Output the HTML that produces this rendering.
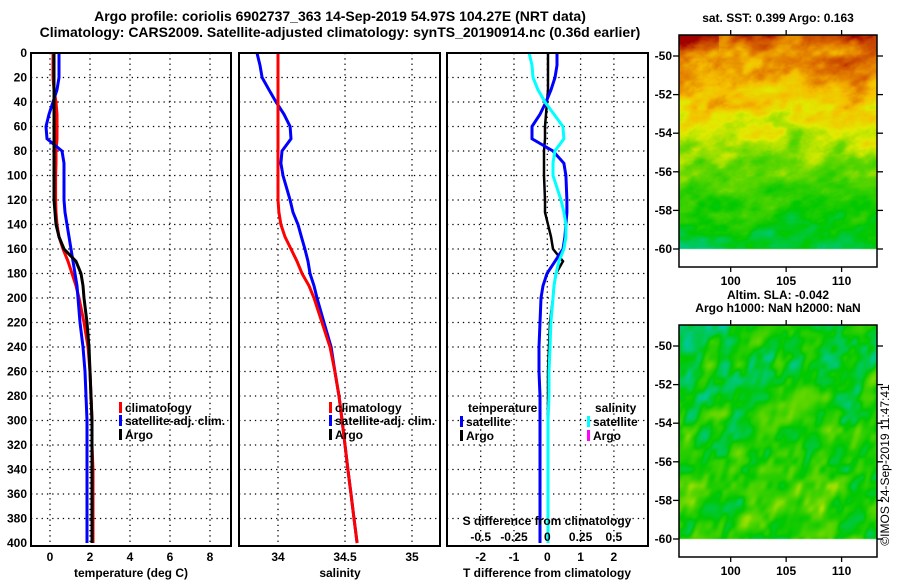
<!DOCTYPE html>
<html><head><meta charset="utf-8">
<style>
body{margin:0;background:#fff;}
#wrap{position:relative;width:900px;height:580px;overflow:hidden;background:#fff;font-family:"Liberation Sans",Arial,sans-serif;}
svg text{font-family:"Liberation Sans",Arial,sans-serif;font-weight:bold;}
canvas{position:absolute;}
</style></head>
<body>
<div id="wrap">
<canvas id="sst" width="198" height="232" style="left:679px;top:35px"></canvas>
<canvas id="sla" width="198" height="232" style="left:679px;top:325px"></canvas>
<svg id="fig" width="900" height="580" style="position:absolute;left:0;top:0"></svg>
</div>
<script>
// ---- data ----
const depths=[0,10,20,30,40,50,60,70,80,90,100,120,130,140,150,160,170,180,190,200,220,240,260,280,300,320,340,360,380,400];
const argoTemp=[0.2,0.2,0.2,0.2,0.2,0.2,0.2,0.2,0.2,0.2,0.2,0.2,0.25,0.3,0.45,0.7,1.3,1.55,1.65,1.7,1.85,1.95,2.0,2.05,2.1,2.1,2.1,2.1,2.1,2.1];
const climTemp=[0.15,0.15,0.15,0.2,0.3,0.35,0.35,0.35,0.3,0.3,0.28,0.28,0.3,0.35,0.45,0.65,0.9,1.1,1.3,1.45,1.7,1.9,2.0,2.05,2.1,2.1,2.15,2.15,2.15,2.15];
const satTemp=[0.45,0.45,0.45,0.35,0.15,-0.05,-0.2,-0.15,0.6,0.7,0.7,0.7,0.75,0.85,0.95,1.05,1.15,1.25,1.35,1.4,1.5,1.65,1.75,1.8,1.85,1.85,1.85,1.85,1.85,1.85];
const climSal=[34,34,34,34,34,34,34,34,34,34,34,34,34.007,34.022,34.052,34.097,34.142,34.179,34.231,34.269,34.328,34.388,34.425,34.455,34.478,34.5,34.522,34.545,34.567,34.59];
const satSal=[33.843,33.866,33.881,33.933,33.985,34.045,34.09,34.097,34.03,34.022,34.037,34.09,34.112,34.149,34.175,34.201,34.224,34.239,34.269,34.291,34.343,34.396,34.425,34.455,34.478,34.5,34.522,34.545,34.567,34.59];
const satTDiff=[0.29,0.29,0.23,0.11,-0.04,-0.22,-0.46,-0.46,0.17,0.5,0.56,0.59,0.59,0.56,0.53,0.47,0.23,-0.01,-0.13,-0.19,-0.22,-0.25,-0.25,-0.22,-0.22,-0.22,-0.22,-0.22,-0.22,-0.22];
const satSDiff=[-0.137,-0.115,-0.107,-0.07,-0.017,0.05,0.117,0.125,0.057,0.043,0.043,0.103,0.125,0.14,0.14,0.125,0.087,0.065,0.05,0.043,0.027,0.02,0.013,0.013,0.005,0.005,0.005,0.005,0.005,0.005];
const argoTDiff=[0.02,0.02,0.02,0.02,-0.01,-0.04,-0.07,-0.07,-0.1,-0.1,-0.1,-0.07,-0.07,0.02,0.11,0.17,0.47,0.26,0.2,0.17,0.08,0.05,0.02,0.02,0.02,0.02,0.02,0.02,0.02,0.02];
const depthTicks=[0,20,40,60,80,100,120,140,160,180,200,220,240,260,280,300,320,340,360,380,400];
const tempTicks=[0,2,4,6,8];
const salTicks=[34,34.5,35];
const salTickLabels=["34","34.5","35"];
const tdTicks=[-2,-1,0,1,2];
const sdTicks=[-0.5,-0.25,0,0.25,0.5];
const sdTickLabels=["-0.5","-0.25","0","0.25","0.5"];
const latTicks=[-50,-52,-54,-56,-58,-60];
const lonTicks=[100,105,110];

const NS='http://www.w3.org/2000/svg';
const svg=document.getElementById('fig');
function el(tag,attrs,parent){const e=document.createElementNS(NS,tag);for(const k in attrs)e.setAttribute(k,attrs[k]);(parent||svg).appendChild(e);return e;}
function txt(x,y,s,anchor,size,parent){const t=el('text',{x:x,y:y,'text-anchor':anchor||'middle','font-size':size||12},parent);t.textContent=s;return t;}

const Y0=53,Y1=543;
function yD(d){return Y0+(Y1-Y0)*d/400;}
const xT=t=>50+20*t;
const xS=s=>278+134*(s-34);
const xDT=t=>547.3+33.3*t;
const xDS=s=>547.3+133.2*s;

const panels=[{x0:31,x1:231,name:'temperature-panel'},{x0:239,x1:440,name:'salinity-panel'},{x0:447,x1:648,name:'difference-panel'}];
const vgrid=[tempTicks.map(xT),salTicks.map(xS),tdTicks.map(xDT)];
panels.forEach((p,i)=>{
  const g=el('g',{});
  
  
  depthTicks.forEach(d=>{if(d>0&&d<400){const l=el('line',{x1:p.x0,x2:p.x1,y1:yD(d),y2:yD(d),stroke:'#000','stroke-width':1.3,'stroke-dasharray':'1.3 4'},g);}});
  vgrid[i].forEach(x=>{const l=el('line',{x1:x,x2:x,y1:Y0,y2:Y1+3,stroke:'#000','stroke-width':1.3,'stroke-dasharray':'1.3 4'},g);});
  p.g=g;
});
function series(xs,xf,color,name,g,w){
  const pts=depths.map((d,i)=>xf(xs[i]).toFixed(1)+','+yD(d).toFixed(1)).join(' ');
  const pl=el('polyline',{points:pts,fill:'none',stroke:color,'stroke-width':w||3,'stroke-linejoin':'miter'},g);
  
  
}
series(climTemp,xT,'#f00','climatology-temp-line',panels[0].g);
series(satTemp,xT,'#00f','satellite-temp-line',panels[0].g);
series(argoTemp,xT,'#000','argo-temp-line',panels[0].g);
series(satSal,xS,'#00f','satellite-salinity-line',panels[1].g);
series(climSal,xS,'#f00','climatology-salinity-line',panels[1].g);
series(argoTDiff,xDT,'#000','argo-temp-diff-line',panels[2].g,2.5);
series(satTDiff,xDT,'#00f','satellite-temp-diff-line',panels[2].g);
series(satSDiff,xDS,'#0ff','satellite-salinity-diff-line',panels[2].g);

panels.forEach(p=>{const r=el('rect',{x:p.x0,y:Y0,width:p.x1-p.x0,height:Y1+3-Y0,fill:'none',stroke:'#000','stroke-width':2});});

// axes labels
depthTicks.forEach(d=>{const t=txt(27,yD(d)+4,String(d),'end',12);});
tempTicks.forEach(v=>{const t=txt(xT(v),561,String(v),'middle',12);});
salTicks.forEach((v,i)=>{const t=txt(xS(v),561,salTickLabels[i],'middle',12);});
tdTicks.forEach(v=>{const t=txt(xDT(v),561,String(v),'middle',12);});
sdTicks.forEach((v,i)=>{const t=txt(xDS(v),541,sdTickLabels[i],'middle',12);});
let t;
t=txt(131,577,'temperature (deg C)');
t=txt(340,577,'salinity');
t=txt(547,577,'T difference from climatology');
t=txt(547,525,'S difference from climatology');
t=txt(340,21,'Argo profile: coriolis 6902737_363 14-Sep-2019 54.97S 104.27E (NRT data)','middle',14);
t=txt(340,37,'Climatology: CARS2009. Satellite-adjusted climatology: synTS_20190914.nc (0.36d earlier)','middle',14);

// legends
function legItem(x,y,color,label,name){
  const g=el('g',{});
  el('rect',{x:x,y:y-10,width:3,height:11,fill:color},g);
  txt(x+6,y,label,'start',12,g);
}
legItem(119,412,'#f00','climatology','legend-climatology');
legItem(119,425,'#00f','satellite-adj. clim.','legend-satellite-adj');
legItem(119,439,'#000','Argo','legend-argo');
legItem(329,412,'#f00','climatology','legend-climatology-sal');
legItem(329,425,'#00f','satellite-adj. clim.','legend-satellite-adj-sal');
legItem(329,439,'#000','Argo','legend-argo-sal');
t=txt(468,412,'temperature','start');
legItem(460,426,'#00f','satellite','legend-temp-satellite');
legItem(460,440,'#000','Argo','legend-temp-argo');
t=txt(595,412,'salinity','start');
legItem(587,426,'#0ff','satellite','legend-sal-satellite');
legItem(587,440,'#f0f','Argo','legend-sal-argo');

// map axes
function mapAxes(top,bottom,lat50,lat60,title1,title2,name){
  const g=el('g',{});
  el('rect',{x:679,y:top,width:198,height:bottom-top,fill:'none',stroke:'#000','stroke-width':1.5},g);
  latTicks.forEach(v=>{const y=lat50+(lat60-lat50)*(v+50)/(-10);
    el('line',{x1:673,x2:679,y1:y,y2:y,stroke:'#000','stroke-width':1.3},g);
    el('line',{x1:877,x2:883,y1:y,y2:y,stroke:'#000','stroke-width':1.3},g);
    txt(672,y+4,String(v),'end',12,g);});
  lonTicks.forEach(v=>{const x=730.7+(v-100)*11.09;
    el('line',{x1:x,x2:x,y1:bottom,y2:bottom+5,stroke:'#000','stroke-width':1.3},g);
    el('line',{x1:x,x2:x,y1:top-5,y2:top,stroke:'#000','stroke-width':1.3},g);
    txt(x,bottom+18,String(v),'middle',12,g);});
  if(title1)txt(778,top-13-(title2?13:0),title1,'middle',12,g);
  if(title2)txt(778,top-13,title2,'middle',12,g);
}
mapAxes(35,267,56,249,'sat. SST: 0.399 Argo: 0.163',null,'sst-map-axes');
mapAxes(325,557,346,539,'Altim. SLA: -0.042','Argo h1000: NaN h2000: NaN','sla-map-axes');
t=txt(0,0,'©IMOS 24-Sep-2019 11:47:41','middle',12);
t.setAttribute('transform','translate(889,465) rotate(-90)');t.setAttribute('style','font-weight:normal');


// maps (texture)
function hash(x,y,s){let h=Math.sin(x*127.1+y*311.7+s*74.7)*43758.5453;return h-Math.floor(h);}
function vnoise(x,y,s){const xi=Math.floor(x),yi=Math.floor(y),xf=x-xi,yf=y-yi;
  const u=xf*xf*(3-2*xf),v=yf*yf*(3-2*yf);
  const a=hash(xi,yi,s),b=hash(xi+1,yi,s),c=hash(xi,yi+1,s),d=hash(xi+1,yi+1,s);
  return a+(b-a)*u+(c-a)*v+(a-b-c+d)*u*v;}
const stops=[[0,[0,200,200]],[0.25,[0,200,0]],[0.45,[100,215,0]],[0.6,[225,235,0]],[0.72,[245,190,0]],[0.84,[225,120,0]],[0.93,[200,70,0]],[1,[160,0,0]]];
function cmap(v){v=Math.max(0,Math.min(1,v));for(let i=1;i<stops.length;i++){if(v<=stops[i][0]){const a=stops[i-1],b=stops[i],f=(v-a[0])/(b[0]-a[0]);return a[1].map((c,k)=>Math.round(c+(b[1][k]-c)*f));}}return stops[stops.length-1][1];}
function drawMap(id,fn,dataH){const c=document.getElementById(id),ctx=c.getContext('2d');
  const img=ctx.createImageData(198,232);
  for(let y=0;y<232;y++)for(let x=0;x<198;x++){const i=(y*198+x)*4;let col=[255,255,255];
    if(y<dataH){col=cmap(fn(x,y));}
    img.data[i]=col[0];img.data[i+1]=col[1];img.data[i+2]=col[2];img.data[i+3]=255;}
  ctx.putImageData(img,0,0);}
drawMap('sst',(x,y)=>{const sx=x+y*0.35;
  const n=vnoise(sx/22,y/14,1)*0.6+vnoise(sx/8,y/6,2)*0.3+vnoise(sx/3,y/2,3)*0.1;
  let v=0.9-0.72*(y/214)+(n-0.5)*0.35;
  if(x<40&&y<20)v+=0.15*(1-y/20);
  if(x<110&&y>150)v-=0.12*((y-150)/64)*(1-x/110);
  return v;},214);
drawMap('sla',(x,y)=>{const sx=x+y*0.3;
  const n=vnoise(sx/14,y/18,5)*0.65+vnoise(sx/6,y/8,6)*0.35;
  return 0.25+(n-0.5)*0.5+0.08*(y/214);},214);
</script>
</body></html>
